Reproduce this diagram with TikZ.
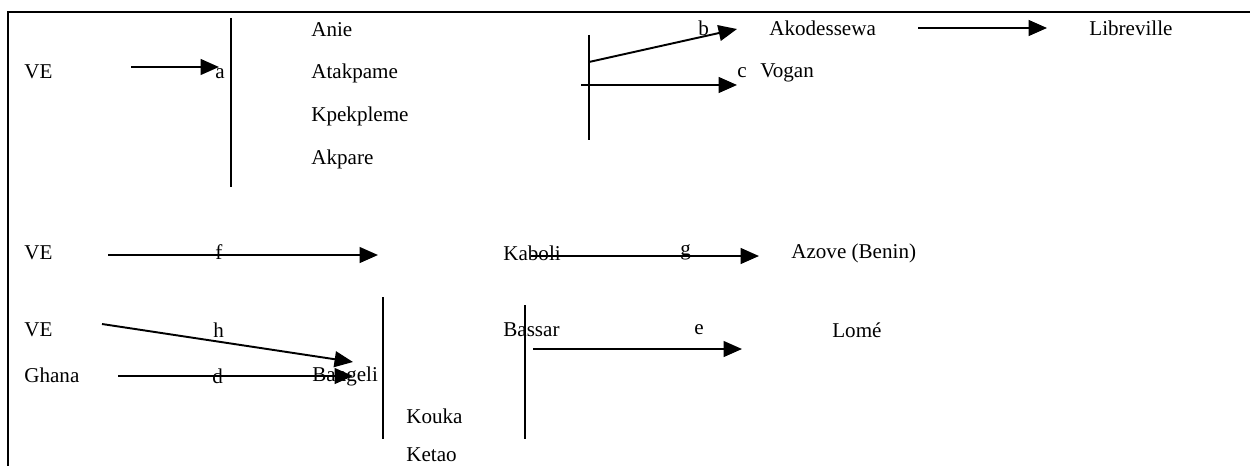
\documentclass[tikz,border=0pt]{standalone}
\usepackage{fontspec}
\setmainfont{Liberation Serif}
\usetikzlibrary{arrows.meta,positioning}

\tikzset{
  place/.style={anchor=west, inner sep=0pt, font=\fontsize{12pt}{14pt}\selectfont},
  route/.style={line width=1.1pt, -{Triangle[length=10.5pt,width=9pt]}},
  bar/.style={line width=1.1pt}
}

\begin{document}
\begin{tikzpicture}[x=0.02cm, y=-0.02cm]

\useasboundingbox (0,0) rectangle (1250,466);
\draw [line width=1.6pt] (8,466) -- (8,12) -- (1250,12);

% first group
\node [place] (ve1) at (24,72) {VE};
\node [place] (a) at (215,74) {a};
\coordinate (a0) at (131,67);
\coordinate (a1) at (219,67);
\draw [route] (a0) -- (a1);
\coordinate (bar1t) at (231,18);
\coordinate (bar1b) at (231,187);
\draw [bar] (bar1t) -- (bar1b);
\node [place] (anie) at (311,30) {Anie};
\node [place] (atakpame) at (311,73) {Atakpame};
\node [place] (kpekpleme) at (311,116) {Kpekpleme};
\node [place] (akpare) at (311,159) {Akpare};

\coordinate (bar2t) at (589,35);
\coordinate (bar2b) at (589,140);
\draw [bar] (bar2t) -- (bar2b);
\node [place] (b) at (698,28) {b};
\coordinate (b0) at (589,62);
\coordinate (b1) at (737,29);
\draw [route] (b0) -- (b1);
\node [place] (c) at (737,73) {c};
\coordinate (c0) at (581,85);
\coordinate (c1) at (737,85);
\draw [route] (c0) -- (c1);
\node [place] (vogan) at (760,73) {Vogan};
\node [place] (akodessewa) at (769,28) {Akodessewa};
\node [place] (libreville) at (1089,28) {Libreville};
\coordinate (k0) at (918,28);
\coordinate (k1) at (1047,28);
\draw [route] (k0) -- (k1);

% second group
\node [place] (ve2) at (24,253) {VE};
\node [place] (f) at (215,252) {f};
\coordinate (f0) at (108,255);
\coordinate (f1) at (378,255);
\draw [route] (f0) -- (f1);
\node [place] (kaboli) at (503,253) {Kaboli};
\node [place] (g) at (680,252) {g};
\coordinate (g0) at (531,256);
\coordinate (g1) at (759,256);
\draw [route] (g0) -- (g1);
\node [place] (azove) at (791,253) {Azove (Benin)};

% third group
\node [place] (ve3) at (24,330) {VE};
\node [place] (h) at (213,330) {h};
\coordinate (h0) at (102,324);
\coordinate (h1) at (353,362);
\draw [route] (h0) -- (h1);
\node [place] (ghana) at (24,375) {Ghana};
\node [place] (d) at (212,376) {d};
\node [place] (bangeli) at (312,376) {Bangeli};
\coordinate (d0) at (118,376);
\coordinate (d1) at (353,376);
\draw [route] (d0) -- (d1);
\coordinate (bar3t) at (383,297);
\coordinate (bar3b) at (383,439);
\draw [bar] (bar3t) -- (bar3b);
\node [place] (kouka) at (406,416) {Kouka};
\node [place] (ketao) at (406,455) {Ketao};
\coordinate (bar4t) at (525,305);
\coordinate (bar4b) at (525,439);
\draw [bar] (bar4t) -- (bar4b);
\node [place] (bassar) at (503,330) {Bassar};
\node [place] (e) at (694,330) {e};
\coordinate (e0) at (533,349);
\coordinate (e1) at (742,349);
\draw [route] (e0) -- (e1);
\node [place] (lome) at (832,330) {Lomé};

\end{tikzpicture}
\end{document}
